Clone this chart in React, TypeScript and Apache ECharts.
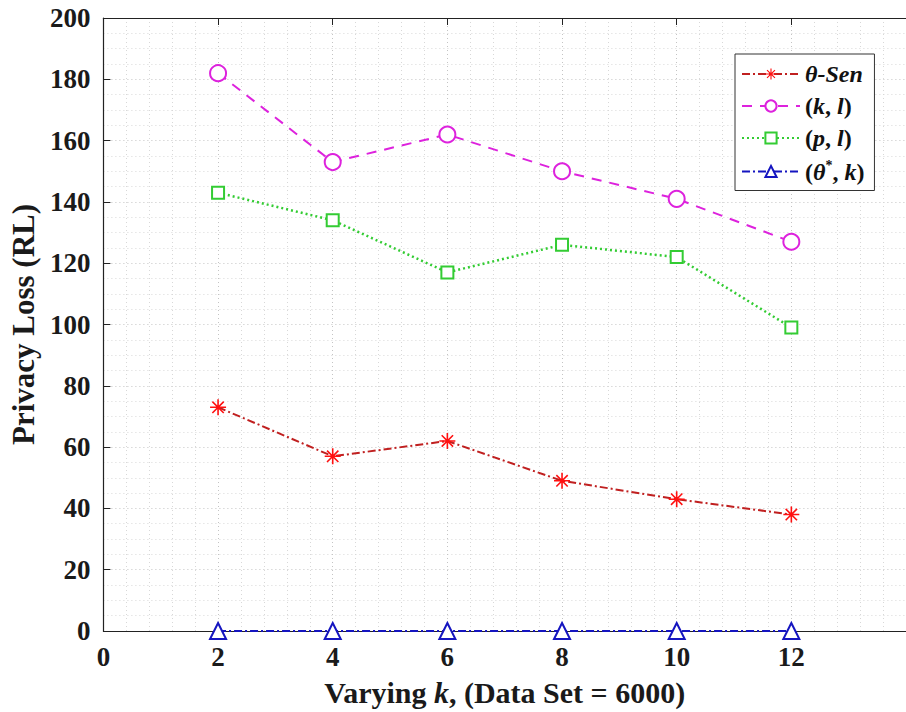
import React, { useEffect, useRef } from "react";
import * as echarts from "echarts";

const kValues = [2, 4, 6, 8, 10, 12];
const thetaSen = [73, 57, 62, 49, 43, 38];
const kl = [182, 153, 162, 150, 141, 127];
const pl = [143, 134, 117, 126, 122, 99];
const thetaStarK = [0, 0, 0, 0, 0, 0];
const seriesNames = ["θ-Sen", "(k, l)", "(p, l)", "(θ*, k)"];

const FONT = '"Liberation Serif", "Times New Roman", serif';
const ASTERISK =
  "path://M-1,-10L1,-10L1,10L-1,10Z M-10,-1L10,-1L10,1L-10,1Z M-7.8,-6.4L-6.4,-7.8L7.8,6.4L6.4,7.8Z M6.4,-7.8L7.8,-6.4L-6.4,7.8L-7.8,6.4Z";

const pairs = (ys: number[]) => kValues.map((x, i) => [x, ys[i]]);

export default function App() {
  const ref = useRef<HTMLDivElement>(null);
  useEffect(() => {
    document.body.style.margin = "0";
    const chart = echarts.init(ref.current!, null, { renderer: "svg" });
    const axisText = { color: "#1a1a1a", fontFamily: FONT, fontWeight: "bold" as const, fontSize: 27 };
    const legendMap: Record<string, string> = {
      "θ-Sen": "{i|θ-Sen}",
      "(k, l)": "{b|(}{i|k}{b|, }{i|l}{b|)}",
      "(p, l)": "{b|(}{i|p}{b|, }{i|l}{b|)}",
      "(θ*, k)": "{b|(}{i|θ}{sup|*}{b|, }{i|k}{b|)}",
    };
    const LF = 24;
    chart.setOption({
      animation: false,
      backgroundColor: "#fff",
      grid: { left: 96, top: 18, width: 819, height: 616, containLabel: false },
      xAxis: [
        {
          type: "value",
          min: 0,
          max: 14,
          interval: 2,
          position: "bottom",
          name: "Varying {i|k}, (Data Set = 6000)",
          nameLocation: "middle",
          nameGap: 46,
          nameTextStyle: {
            ...axisText,
            fontSize: 30,
            rich: { i: { ...axisText, fontSize: 30, fontStyle: "italic" } },
          },
          axisLine: { show: true, lineStyle: { color: "#222", width: 1.2 } },
          axisTick: { show: true, inside: true, length: 7, lineStyle: { color: "#222" } },
          axisLabel: { ...axisText, margin: 12, showMaxLabel: false },
          splitLine: { show: true, lineStyle: { color: "#c4c4c4", type: [1, 3], width: 1 } },
          minorTick: { show: false, splitNumber: 5 },
          minorSplitLine: { show: true, lineStyle: { color: "#d8d8d8", type: [1, 3], width: 1 } },
        },
        {
          type: "value",
          min: 0,
          max: 14,
          interval: 2,
          position: "top",
          axisLine: { show: true, lineStyle: { color: "#222", width: 1.2 } },
          axisTick: { show: true, inside: true, length: 7, lineStyle: { color: "#222" } },
          axisLabel: { show: false },
          splitLine: { show: false },
        },
      ],
      yAxis: {
        type: "value",
        min: 0,
        max: 200,
        interval: 20,
        name: "Privacy Loss (RL)",
        nameLocation: "middle",
        nameGap: 50,
        nameTextStyle: { ...axisText, fontSize: 31 },
        axisLine: { show: true, lineStyle: { color: "#222", width: 1.2 } },
        axisTick: { show: true, inside: true, length: 7, lineStyle: { color: "#222" } },
        axisLabel: { ...axisText, margin: 13 },
        splitLine: { show: true, lineStyle: { color: "#c4c4c4", type: [1, 3], width: 1 } },
        minorTick: { show: false, splitNumber: 4 },
        minorSplitLine: { show: true, lineStyle: { color: "#d8d8d8", type: [1, 3], width: 1 } },
      },
      legend: {
        orient: "vertical",
        left: 735,
        top: 54,
        padding: [8, 10, 7, 6],
        itemGap: 8,
        itemWidth: 58,
        itemHeight: 14,
        backgroundColor: "#fff",
        borderColor: "#333",
        borderWidth: 1,
        data: seriesNames,
        formatter: (name: string) => legendMap[name] || name,
        textStyle: {
          color: "#111",
          fontFamily: FONT,
          fontWeight: "bold",
          fontSize: LF,
          rich: {
            b: { color: "#111", fontFamily: FONT, fontWeight: "bold", fontSize: LF },
            i: { color: "#111", fontFamily: FONT, fontWeight: "bold", fontStyle: "italic", fontSize: LF },
            sup: { color: "#111", fontFamily: FONT, fontWeight: "bold", fontSize: 14, padding: [0, 0, 13, 0] },
          },
        },
      },
      series: [
        {
          name: seriesNames[0],
          type: "line",
          data: pairs(thetaSen),
          symbol: ASTERISK,
          symbolSize: 16,
          itemStyle: { color: "#ff1010" },
          lineStyle: { color: "#c02020", width: 2, type: [8, 3, 2, 3] },
        },
        {
          name: seriesNames[1],
          type: "line",
          data: pairs(kl),
          symbol: "emptyCircle",
          symbolSize: 16,
          itemStyle: { color: "#dd22dd", borderWidth: 2 },
          lineStyle: { color: "#dd22dd", width: 2, type: [10, 8] },
        },
        {
          name: seriesNames[2],
          type: "line",
          data: pairs(pl),
          symbol: "emptyRect",
          symbolSize: 12,
          itemStyle: { color: "#33cc33", borderWidth: 2 },
          lineStyle: { color: "#33cc33", width: 2.5, type: [2, 3] },
        },
        {
          name: seriesNames[3],
          type: "line",
          data: pairs(thetaStarK),
          symbol: "emptyTriangle",
          symbolSize: 16,
          itemStyle: { color: "#1515c0", borderWidth: 2.5 },
          lineStyle: { color: "#1515c0", width: 2, type: [8, 3, 2, 3] },
        },
      ],
    });
    return () => chart.dispose();
  }, []);
  return <div ref={ref} style={{ position: "fixed", left: 0, top: 0, width: 906, height: 712 }} />;
}
